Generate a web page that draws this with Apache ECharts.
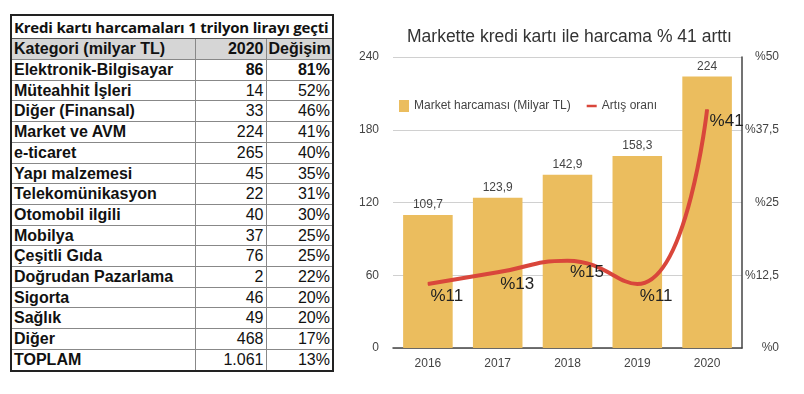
<!DOCTYPE html>
<html>
<head>
<meta charset="utf-8">
<script src="https://cdn.jsdelivr.net/npm/echarts@6/dist/echarts.min.js"></script>
<style>
  html, body { margin:0; padding:0; width:804px; height:394px; background:#fff; overflow:hidden; }
  #chart { position:absolute; left:340px; top:0; width:464px; height:394px; }
  #tbl { position:absolute; left:10px; top:14px; width:324px; border-collapse:collapse; border:2px solid #222;
         font-family:"Liberation Sans", Arial, sans-serif; font-size:16px; color:#111; table-layout:fixed; }
  #tbl td { padding:0 2px; height:19.7px; line-height:19.7px; border:1px solid #888; white-space:nowrap; overflow:hidden; }
  #tbl td.c { font-weight:bold; }
  #tbl td.n { text-align:right; }
  #tbl tr.title td { font-family:"Open Sans", "Lato", sans-serif; font-weight:bold; font-size:15px; height:22px; line-height:22px; border-bottom:1px solid #555; letter-spacing:-0.2px; }
  #tbl tr.head td { background:#d6d6d6; font-weight:bold; height:20px; line-height:20px; }
  #tbl tr.bold td { font-weight:bold; }
</style>
</head>
<body>
<table id="tbl">
  <colgroup><col style="width:184px"><col style="width:71px"><col style="width:67px"></colgroup>
  <tbody id="tb"></tbody>
</table>
<div id="chart"></div>
<script>
// ---- table data ----
const tableTitle = "Kredi kartı harcamaları 1 trilyon lirayı geçti";
const tableHeaders = ["Kategori (milyar TL)", "2020", "Değişim"];
const tableCategories = ["Elektronik-Bilgisayar","Müteahhit İşleri","Diğer (Finansal)","Market ve AVM","e-ticaret","Yapı malzemesi","Telekomünikasyon","Otomobil ilgili","Mobilya","Çeşitli Gıda","Doğrudan Pazarlama","Sigorta","Sağlık","Diğer","TOPLAM"];
const tableValues2020 = ["86","14","33","224","265","45","22","40","37","76","2","46","49","468","1.061"];
const tableChanges = ["81%","52%","46%","41%","40%","35%","31%","30%","25%","25%","22%","20%","20%","17%","13%"];

// ---- chart data ----
const chartTitle = "Markette kredi kartı ile harcama % 41 arttı";
const years = ["2016","2017","2018","2019","2020"];
const spending = [109.7, 123.9, 142.9, 158.3, 224];
const growth = [11, 13, 15, 11, 41];
const seriesNames = ["Market harcaması (Milyar TL)", "Artış oranı"];

// build table
const tb = document.getElementById('tb');
let html = '<tr class="title"><td colspan="3">' + tableTitle + '</td></tr>';
html += '<tr class="head"><td>' + tableHeaders[0] + '</td><td class="n">' + tableHeaders[1] + '</td><td class="n">' + tableHeaders[2] + '</td></tr>';
tableCategories.forEach((c, i) => {
  html += '<tr' + (i === 0 ? ' class="bold"' : '') + '><td class="c">' + c + '</td><td class="n">' + tableValues2020[i] + '</td><td class="n">' + tableChanges[i] + '</td></tr>';
});
tb.innerHTML = html;

// chart
const chart = echarts.init(document.getElementById('chart'));
const fmt = v => String(v).replace('.', ',');
chart.setOption({
  animation: false,
  textStyle: { fontFamily: "Liberation Sans, Arial, sans-serif" },
  title: {
    text: chartTitle, left: 62, top: 23,
    textStyle: { fontSize: 17.5, fontWeight: 'normal', color: '#333' }
  },
  legend: {
    left: 54, top: 95, itemWidth: 10, itemHeight: 12, itemGap: 16,
    textStyle: { fontSize: 12, color: '#444' },
    data: [
      { name: seriesNames[0], icon: 'rect' },
      { name: seriesNames[1], icon: 'path://M0,0h12v3h-12z', itemStyle: { color: '#d9463b', opacity: 1 } }
    ]
  },
  grid: { left: 53, right: 62, top: 57, bottom: 46 },
  xAxis: {
    type: 'category', data: years,
    axisLine: { lineStyle: { color: '#444', width: 1.5 } },
    axisTick: { show: false },
    axisLabel: { color: '#444', fontSize: 12, margin: 10 }
  },
  yAxis: [
    {
      type: 'value', min: 0, max: 240, interval: 60,
      axisLine: { show: false }, axisTick: { show: false },
      axisLabel: { color: '#444', fontSize: 12, margin: 14 },
      splitLine: { lineStyle: { color: '#d0d0d0' } }
    },
    {
      type: 'value', min: 0, max: 50, interval: 12.5, position: 'right',
      axisLine: { show: true, lineStyle: { color: '#444', width: 1.5 } },
      axisTick: { show: false },
      axisLabel: { color: '#444', fontSize: 12, margin: 37, align: 'right', formatter: v => '%' + fmt(v) },
      splitLine: { show: false }
    }
  ],
  series: [
    {
      name: seriesNames[0], type: 'bar', data: spending, barWidth: '71%',
      itemStyle: { color: '#ebbd5e' },
      label: { show: true, position: 'top', distance: 4, color: '#444', fontSize: 12, formatter: p => fmt(p.value) }
    },
    {
      name: seriesNames[1], type: 'line', yAxisIndex: 1, data: growth, smooth: 0.5,
      symbol: 'circle', symbolSize: 1, showSymbol: true,
      itemStyle: { color: '#d9463b' },
      lineStyle: { color: '#d9463b', width: 4 },
      label: { show: true, position: 'right', distance: 0, offset: [2, 12], color: '#222', fontSize: 17, formatter: p => '%' + p.value }
    }
  ]
});
</script>
</body>
</html>
